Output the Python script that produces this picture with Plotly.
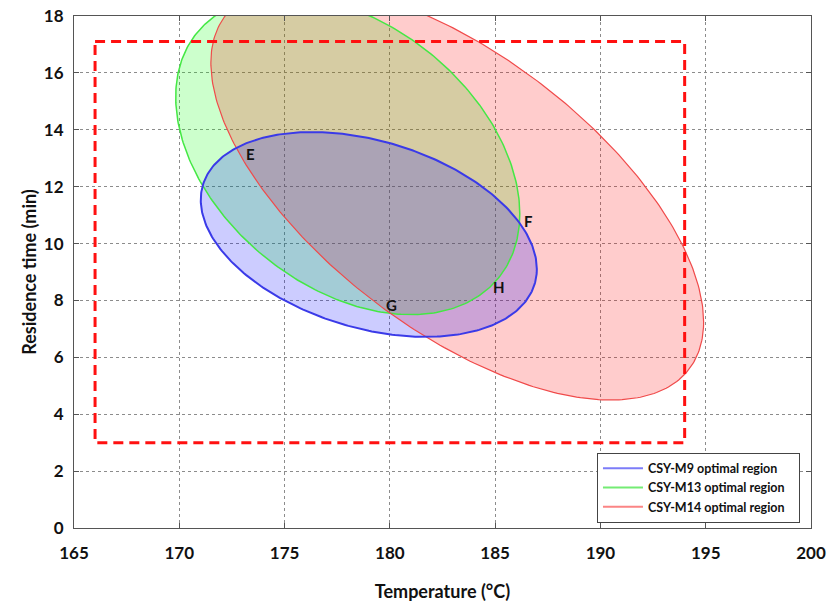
import numpy as np
import plotly.graph_objects as go

# Ellipse (optimal region) parameters
series_names = ["CSY-M9 optimal region", "CSY-M13 optimal region", "CSY-M14 optimal region"]
center_temp = [179.0, 178.0, 183.2]     # °C
center_time = [10.32, 13.1, 11.8]       # min
half_width_temp = [7.98, 8.17, 11.7]    # half extent in temperature
half_height_time = [3.6, 5.6, 7.3]      # half extent in residence time
correlation = [-0.338, -0.367, -0.624]  # tilt (correlation) of each ellipse

# Design-space rectangle (red dashed)
rect_temp = [166, 194]
rect_time = [3.0, 17.1]

# Point labels
label_text = ["E", "F", "G", "H"]
label_temp = [173.4, 186.6, 180.1, 185.2]
label_time = [13.15, 10.8, 7.84, 8.47]

x_ticks = [165, 170, 175, 180, 185, 190, 195, 200]
y_ticks = [0, 2, 4, 6, 8, 10, 12, 14, 16, 18]

fill_colors = ["rgba(0,0,255,0.2)", "rgba(0,255,0,0.2)", "rgba(255,0,0,0.2)"]
edge_colors = ["#3a3ae8", "#44e844", "#f04a4a"]
edge_widths = [2, 1.5, 1.2]
legend_colors = ["#7c7cf8", "#74ec74", "#fb8585"]

FONT = "Lato"
fig = go.Figure()

t = np.linspace(0, 2 * np.pi, 361)
curves = []
for i in range(3):
    r = correlation[i]
    xs = center_temp[i] + half_width_temp[i] * np.cos(t)
    ys = center_time[i] + half_height_time[i] * (r * np.cos(t) + np.sqrt(1 - r * r) * np.sin(t))
    curves.append((xs, ys))

for i in [1, 2, 0]:  # fills: green, red, blue
    xs, ys = curves[i]
    fig.add_trace(go.Scatter(
        x=xs, y=ys, mode="lines", fill="toself",
        fillcolor=fill_colors[i], line=dict(width=0),
        showlegend=False, hoverinfo="skip",
    ))
for i in [1, 2, 0]:  # outlines on top
    xs, ys = curves[i]
    fig.add_trace(go.Scatter(
        x=xs, y=ys, mode="lines",
        line=dict(color=edge_colors[i], width=edge_widths[i]),
        showlegend=False, hoverinfo="skip",
    ))

fig.add_trace(go.Scatter(
    x=[rect_temp[0], rect_temp[1], rect_temp[1], rect_temp[0], rect_temp[0]],
    y=[rect_time[1], rect_time[1], rect_time[0], rect_time[0], rect_time[1]],
    mode="lines", line=dict(color="#ff1010", width=3, dash="10px,6px"),
    showlegend=False, hoverinfo="skip",
))

for i in range(3):
    fig.add_trace(go.Scatter(
        x=[None], y=[None], mode="lines", name=series_names[i] + "\u00a0\u00a0\u00a0",
        line=dict(color=legend_colors[i], width=2),
    ))

for txt, xv, yv in zip(label_text, label_temp, label_time):
    fig.add_annotation(x=xv, y=yv, text=txt, showarrow=False,
                       font=dict(family=FONT, size=15, color="#111", weight="bold"))

axis_common = dict(
    showgrid=True, gridcolor="#8c8c8c", griddash="dot", gridwidth=1,
    showline=True, linecolor="#555", linewidth=1, mirror="ticks",
    ticks="inside", ticklen=5, tickcolor="#555",
    zeroline=False, automargin=False, ticklabeloverflow="allow",
    tickfont=dict(family=FONT, size=17, color="#111", weight="bold"),
)

fig.update_xaxes(range=[165, 200], tickvals=x_ticks, ticklabelstandoff=10,
                 title=dict(text="Temperature (°C)", standoff=22,
                            font=dict(family=FONT, size=18, color="#111", weight="bold")),
                 **axis_common)
fig.update_yaxes(range=[0, 18], tickvals=y_ticks, ticklabelstandoff=6,
                 title=dict(text="Residence time (min)", standoff=2,
                            font=dict(family=FONT, size=18, color="#111", weight="bold")),
                 **axis_common)

fig.update_layout(
    width=833, height=606,
    margin=dict(l=74, r=22, t=16, b=78),
    paper_bgcolor="white", plot_bgcolor="white",
    legend=dict(x=0.7096, y=0.147, xanchor="left", yanchor="top",
                bgcolor="white", bordercolor="#444", borderwidth=1,
                font=dict(family=FONT, size=12.5, color="#111", weight="bold"),
                tracegroupgap=0, itemwidth=40),
)

# remove the default page margin so the figure fills the 833x606 window exactly
fig.write_html("out.html", config={"displayModeBar": False},
               post_script="document.body.style.margin='0';")
